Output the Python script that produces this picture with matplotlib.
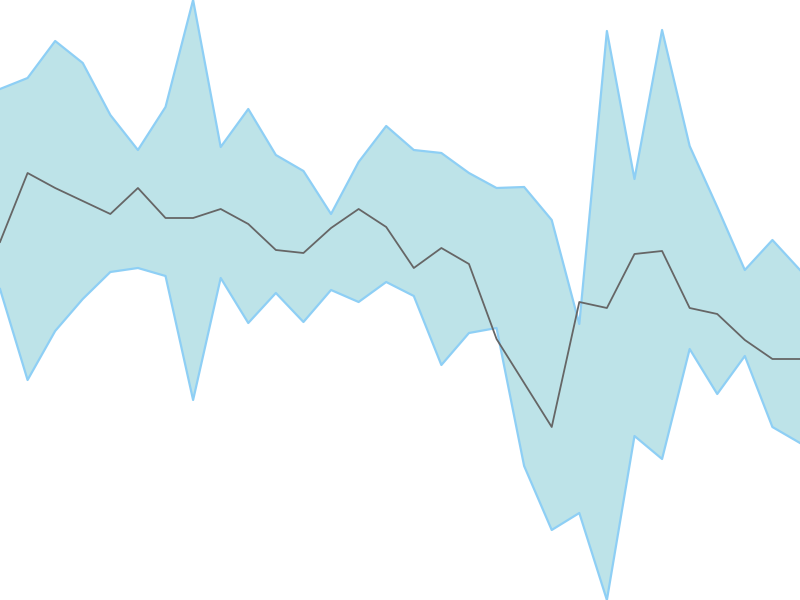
import matplotlib
matplotlib.use("Agg")
import matplotlib.pyplot as plt
import numpy as np

# values (higher = up), 30 points
upper = [511, 522, 559, 537, 485, 450, 493, 600, 453, 491, 445, 429, 386, 438, 474,
         450, 447, 427, 412, 413, 380, 276, 569, 421, 570, 454, 393, 330, 360, 330]
middle = [358, 427, 412, 399, 386, 412, 382, 382, 391, 376, 350, 347, 372, 391, 373,
          332, 352, 336, 261, 217, 173, 298, 292, 346, 349, 292, 286, 260, 241, 241]
lower = [311, 220, 269, 301, 328, 332, 324, 200, 322, 277, 307, 278, 310, 298, 318,
         304, 235, 267, 272, 134, 70, 87, 0, 164, 141, 251, 206, 244, 173, 157]

x = np.arange(len(middle))

fig = plt.figure(figsize=(8, 6), dpi=100)
ax = fig.add_axes([0, 0, 1, 1])
ax.fill_between(x, lower, upper, facecolor="#bde3e8", edgecolor="none", zorder=1)
ax.plot(x, upper, color="#8ecff5", lw=1.6, zorder=2)
ax.plot(x, lower, color="#8ecff5", lw=1.6, zorder=2)
ax.plot(x, middle, color="#666666", lw=1.3, zorder=3)
ax.set_xlim(0, len(x) - 1)
ax.set_ylim(0, 600)
ax.axis("off")
fig.savefig("out.png", dpi=100)
